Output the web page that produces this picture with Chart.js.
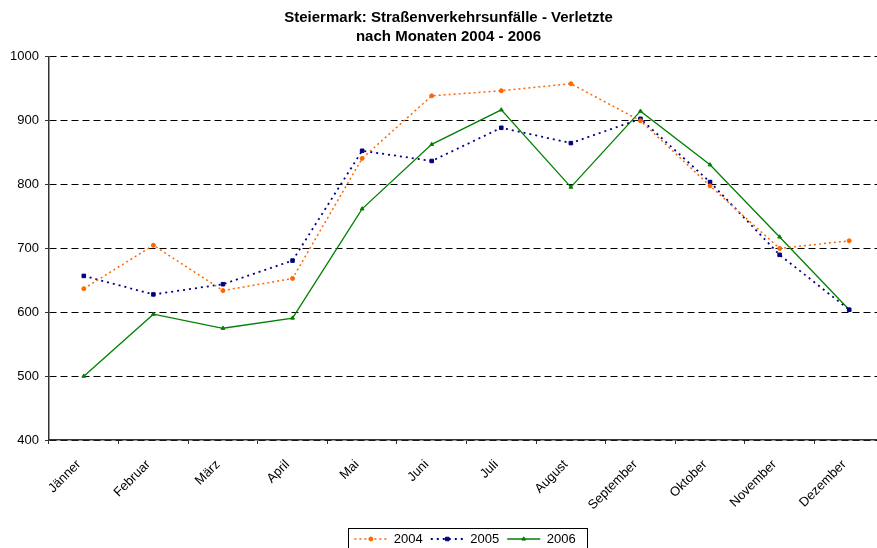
<!DOCTYPE html>
<html>
<head>
<meta charset="utf-8">
<script src="https://cdn.jsdelivr.net/npm/chart.js@4/dist/chart.umd.min.js"></script>
<style>
  html, body { margin: 0; padding: 0; overflow: hidden; background: #fff; }
  #wrap { width: 889px; height: 548px; }
</style>
</head>
<body>
<div id="wrap"><canvas id="chart" width="889" height="548"></canvas></div>
<script>
// Monate und Verletzte je Jahr
const monate = ['Jänner', 'Februar', 'März', 'April', 'Mai', 'Juni', 'Juli', 'August', 'September', 'Oktober', 'November', 'Dezember'];
const jahre = ['2004', '2005', '2006'];
const werte2004 = [637, 705, 634, 653, 841, 939, 947, 958, 900, 798, 700, 712];
const werte2005 = [657, 628, 644, 681, 853, 837, 889, 865, 903, 804, 690, 604];
const werte2006 = [500, 597, 575, 591, 762, 863, 917, 796, 915, 831, 718, 604];
const yTicks = [400, 500, 600, 700, 800, 900, 1000];

const schrift = "'Liberation Sans', Arial, sans-serif";
const musterBreite = 33;

// Legende und Titel verschieben (nach dem Update), Rahmen und Punktsymbole zeichnen
const legendeRahmen = {
  id: 'legendeRahmen',
  afterUpdate(chart) {
    const t = chart.titleBlock;
    if (t) { t.left += 4; t.right += 4; }
    const leg = chart.legend;
    const hb = leg.legendHitBoxes;
    if (!hb || !hb.length) return;
    const last = hb[hb.length - 1];
    const mitte = (hb[0].left + last.left + last.width) / 2;
    const dx = 465 - mitte;
    const dy = 539 - (hb[0].top + hb[0].height / 2);
    leg.left += dx; leg.right += dx;
    leg.top += dy; leg.bottom += dy;
    hb.forEach(b => { b.left += dx; b.top += dy; });
  },
  afterDraw(chart) {
    const leg = chart.legend;
    const hb = leg.legendHitBoxes;
    if (!hb || !hb.length) return;
    const ctx = chart.ctx;
    const last = hb[hb.length - 1];
    ctx.save();
    ctx.strokeStyle = '#000';
    ctx.lineWidth = 1;
    ctx.setLineDash([]);
    const x0 = Math.round(hb[0].left - 6) + 0.5;
    const x1 = Math.round(last.left + last.width + 11) + 0.5;
    ctx.strokeRect(x0, 528.5, x1 - x0, 30);
    hb.forEach((b, i) => {
      const ds = chart.data.datasets[i];
      ctx.fillStyle = ds.backgroundColor;
      ctx.strokeStyle = ds.borderColor;
      Chart.helpers.drawPoint(ctx, {
        pointStyle: ds.pointStyle, radius: ds.pointRadius, rotation: 0, borderWidth: 1
      }, b.left + musterBreite / 2, b.top + b.height / 2);
    });
    ctx.restore();
  }
};

const ctx = document.getElementById('chart').getContext('2d');
const chart = new Chart(ctx, {
  type: 'line',
  data: {
    labels: monate,
    datasets: [
      {
        label: jahre[0],
        data: werte2004,
        borderColor: '#FF6600',
        backgroundColor: '#FF6600',
        borderWidth: 1.5,
        borderDash: [2, 3],
        pointStyle: 'circle',
        pointRadius: 2,
        pointBorderWidth: 1,
        tension: 0
      },
      {
        label: jahre[1],
        data: werte2005,
        borderColor: '#000080',
        backgroundColor: '#000080',
        borderWidth: 1.8,
        borderDash: [2, 4],
        pointStyle: 'rect',
        pointRadius: 2.5,
        pointBorderWidth: 1,
        tension: 0
      },
      {
        label: jahre[2],
        data: werte2006,
        borderColor: '#008000',
        backgroundColor: '#008000',
        borderWidth: 1.3,
        pointStyle: 'triangle',
        pointRadius: 2.2,
        pointBorderWidth: 1,
        tension: 0
      }
    ]
  },
  options: {
    responsive: false,
    animation: false,
    layout: { padding: 0 },
    plugins: {
      title: {
        display: true,
        text: ['Steiermark: Straßenverkehrsunfälle - Verletzte', 'nach Monaten 2004 - 2006'],
        color: '#000',
        font: { family: schrift, size: 15, weight: 'bold', lineHeight: 1.23 },
        padding: { top: 9, bottom: 11 }
      },
      legend: {
        display: true,
        position: 'bottom',
        labels: {
          color: '#000',
          font: { family: schrift, size: 13 },
          usePointStyle: true,
          pointStyle: 'line',
          pointStyleWidth: musterBreite,
          boxWidth: musterBreite,
          boxHeight: 13,
          padding: 8,
          // Strichart der Linie statt der Punktart für die Legende übernehmen
          generateLabels(chart) {
            const items = Chart.defaults.plugins.legend.labels.generateLabels(chart);
            items.forEach(it => {
              const ds = chart.data.datasets[it.datasetIndex];
              it.lineDash = ds.borderDash || [];
              it.lineWidth = ds.borderWidth;
              it.strokeStyle = ds.borderColor;
              it.pointStyle = 'line';
            });
            return items;
          }
        }
      },
      tooltip: { enabled: false }
    },
    scales: {
      x: {
        offset: true,
        grid: {
          offset: true,
          drawOnChartArea: false,
          drawTicks: true,
          tickLength: 4,
          tickColor: '#333',
          tickWidth: 1
        },
        border: { display: true, color: '#333', width: 1.5 },
        ticks: {
          color: '#000',
          font: { family: schrift, size: 13 },
          maxRotation: 45,
          minRotation: 45,
          autoSkip: false,
          padding: 13,
          labelOffset: -5
        },
        afterFit(scale) {
          const leg = scale.chart.legend;
          scale.height = scale.chart.height - 440 - (leg ? leg.height : 0);
        }
      },
      y: {
        min: 400,
        max: 1000,
        afterBuildTicks(scale) {
          scale.ticks = yTicks.map(v => ({ value: v }));
        },
        grid: {
          color: '#000',
          lineWidth: 1,
          tickLength: 4,
          tickColor: '#333',
          tickBorderDash: [],
          drawTicks: true
        },
        border: { display: true, color: '#333', width: 1.5, dash: [7, 4] },
        ticks: {
          color: '#000',
          font: { family: schrift, size: 13 },
          padding: 6,
          callback: v => String(v)
        },
        afterFit(scale) {
          scale.width = 49;
        }
      }
    }
  },
  plugins: [legendeRahmen]
});
</script>
</body>
</html>
